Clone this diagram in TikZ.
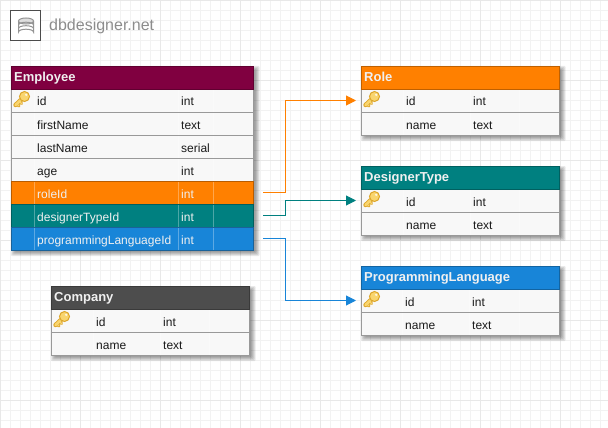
\documentclass[tikz,border=0pt]{standalone}
\usepackage{fontspec}
\setmainfont{Liberation Sans}
\usetikzlibrary{arrows.meta,calc}
\definecolor{gridminor}{HTML}{F2F2F2}
\definecolor{gridmajor}{HTML}{E8E8E8}
\definecolor{rowbg}{HTML}{F8F8F8}
\definecolor{rowline}{HTML}{999999}
\definecolor{wine}{HTML}{800040}
\definecolor{orng}{HTML}{FF8000}
\definecolor{tealc}{HTML}{008080}
\definecolor{bluec}{HTML}{1885D8}
\definecolor{greyc}{HTML}{4D4D4D}
\definecolor{orngd}{HTML}{B85C00}
\definecolor{teald}{HTML}{005F5F}
\definecolor{blued}{HTML}{1A6299}
\definecolor{cellink}{HTML}{1A1A1A}
\definecolor{lightink}{HTML}{F0F0F0}
\definecolor{keyfill}{HTML}{F9D56E}
\definecolor{keyline}{HTML}{DDA62B}
\tikzset{
  gridthin/.style={draw=gridminor,line width=1pt},
  gridthick/.style={draw=gridmajor,line width=1pt},
  headbox/.style={anchor=north west,inner sep=0pt,outer sep=0pt,draw=#1!75!black,fill=#1,line width=1pt,minimum height=23pt},
  rowbox/.style={anchor=north west,inner sep=0pt,outer sep=0pt,line width=1pt,minimum height=23pt},
  headtext/.style={anchor=base west,inner sep=0pt,text=lightink,font=\fontsize{13}{15}\selectfont\bfseries},
  celltext/.style={anchor=base west,inner sep=0pt,font=\fontsize{12}{14}\selectfont},
  relation/.style={line width=1pt,-{Triangle[length=10pt,width=10pt]}},
  keyicon/.pic={
    \draw[keyline,line width=4.4pt,line cap=round] (2,13.5) -- (9,7);
    \draw[keyline,line width=3pt,line cap=round] (3.5,12.5) -- (5.5,14.5);
    \draw[keyline,line width=3pt,line cap=round] (6,10) -- (8,12);
    \draw[keyfill,line width=2.6pt,line cap=round] (2,13.5) -- (9,7);
    \draw[keyfill,line width=1.4pt,line cap=round] (3.5,12.5) -- (5.5,14.5);
    \draw[keyfill,line width=1.4pt,line cap=round] (6,10) -- (8,12);
    \draw[keyline,fill=keyfill,line width=1pt] (11,5) circle[radius=5];
    \fill[white,opacity=.75] (12.7,3.3) circle[radius=1.3];
  }
}
\newcommand\tshadow[2]{% height, top
  \foreach \s in {-1,0,1,2,3}{
    \fill[black,opacity=.085,rounded corners=1pt] ({\tX+2.5-\s},{#2+2.5-\s}) rectangle ({\tX+\tW+1+2.5+\s},{#2+#1+2.5+\s});
  }
}
\newcommand\thead[4]{% id, top, colour, title
  \node[headbox=#3,minimum width=\tW pt] (#1) at (\tX,#2) {};
  \node[headtext] (#1-title) at ({\tX+2.5},{#2+15}) {#4};
}
\newcommand\trow[7]{% id, top, label, type, fill, border, ink
  \node[rowbox,fill=#5,draw=#6,minimum width=\tW pt] (#1) at (\tX,#2) {};
  \foreach \c in {\cA,\cB,\cC}{
    \draw[white,opacity=.3,line width=1pt] (\c,{#2+.5}) -- (\c,{#2+22.5});
  }
  \node[celltext,text=#7] (#1-name) at ({\cA+2.5},{#2+16.5}) {#3};
  \node[celltext,text=#7] (#1-type) at ({\cB+2.5},{#2+16.5}) {#4};
}
\begin{document}
\begin{tikzpicture}[x=1pt,y=-1pt]
\useasboundingbox (0,0) rectangle (608,428);
\fill[white] (0,0) rectangle (608,428);
% grid
\foreach \g in {0,10,...,600}{\draw[gridthin] (\g+.5,0) -- (\g+.5,428);}
\foreach \g in {0,10,...,420}{\draw[gridthin] (0,\g+.5) -- (608,\g+.5);}
\foreach \g in {0,80,...,600}{\draw[gridthick] (\g+.5,0) -- (\g+.5,428);}
\foreach \g in {0,80,...,420}{\draw[gridthick] (0,\g+.5) -- (608,\g+.5);}
% logo
\node[anchor=north west,inner sep=0pt,outer sep=0pt,draw=black!70,fill=white,line width=1pt,minimum width=30pt,minimum height=30pt] (logo) at (10.5,10.5) {};
\begin{scope}[draw=black!42,line width=1pt]
  \draw (18.5,21) -- (18.5,32) arc[start angle=180,end angle=360,x radius=7.5,y radius=2.8] -- (33.5,21);
  \draw[fill=black!13] (26,21) ellipse[x radius=7.5,y radius=3];
  \draw (18.5,25) arc[start angle=180,end angle=360,x radius=7.5,y radius=2.8];
  \draw (18.5,28.5) arc[start angle=180,end angle=360,x radius=7.5,y radius=2.8];
\end{scope}
\node[anchor=base west,inner sep=0pt,text=black!45,font=\fontsize{16}{18}\selectfont] (brand) at (49,31) {dbdesigner.net};
% Employee
\def\tX{11.5}\def\tW{241.5}\def\cA{34.5}\def\cB{178.5}\def\cC{213.5}
\tshadow{184}{66.5}
\trow{empid}{89.5}{id}{int}{rowbg}{rowline}{cellink}
\trow{empfirst}{112.5}{firstName}{text}{rowbg}{rowline}{cellink}
\trow{emplast}{135.5}{lastName}{serial}{rowbg}{rowline}{cellink}
\trow{empage}{158.5}{age}{int}{rowbg}{rowline}{cellink}
\trow{emprole}{181.5}{roleId}{int}{orng}{orngd}{lightink}
\trow{empdesigner}{204.5}{designerTypeId}{int}{tealc}{teald}{lightink}
\trow{empprog}{227.5}{programmingLanguageId}{int}{bluec}{blued}{lightink}
\thead{emp}{66.5}{wine}{Employee}
\pic at (13.5,91.5) {keyicon};
% Role
\def\tX{361.5}\def\tW{197.5}\def\cA{403.5}\def\cB{470.5}\def\cC{519.5}
\tshadow{69}{66.5}
\trow{roleid}{89.5}{id}{int}{rowbg}{rowline}{cellink}
\trow{rolename}{112.5}{name}{text}{rowbg}{rowline}{cellink}
\thead{role}{66.5}{orng}{Role}
\pic at (363.5,91.5) {keyicon};
% DesignerType
\tshadow{69}{166.5}
\trow{dtid}{189.5}{id}{int}{rowbg}{rowline}{cellink}
\trow{dtname}{212.5}{name}{text}{rowbg}{rowline}{cellink}
\thead{dt}{166.5}{tealc}{DesignerType}
\pic at (363.5,191.5) {keyicon};
% ProgrammingLanguage
\def\cA{402.5}\def\cB{469.5}
\tshadow{69}{266.5}
\trow{plid}{289.5}{id}{int}{rowbg}{rowline}{cellink}
\trow{plname}{312.5}{name}{text}{rowbg}{rowline}{cellink}
\thead{pl}{266.5}{bluec}{ProgrammingLanguage}
\pic at (363.5,291.5) {keyicon};
% Company
\def\tX{51.5}\def\tW{197.5}\def\cA{93.5}\def\cB{160.5}\def\cC{209.5}
\tshadow{69}{286.5}
\trow{coid}{309.5}{id}{int}{rowbg}{rowline}{cellink}
\trow{coname}{332.5}{name}{text}{rowbg}{rowline}{cellink}
\thead{co}{286.5}{greyc}{Company}
\pic at (53.5,311.5) {keyicon};
% relations
\coordinate (bus) at (285,0);
\coordinate (a1) at ([shift={(10pt,.5pt)}]emprole.east);
\coordinate (b1) at ([shift={(-5.5pt,.5pt)}]roleid.west);
\coordinate (a2) at ([shift={(10pt,.5pt)}]empdesigner.east);
\coordinate (b2) at ([shift={(-5.5pt,.5pt)}]dtid.west);
\coordinate (a3) at ([shift={(10pt,.5pt)}]empprog.east);
\coordinate (b3) at ([shift={(-5.5pt,.5pt)}]plid.west);
\draw[relation,orng] (a1) -- (bus |- a1) -- (bus |- b1) -- (b1);
\draw[relation,tealc] (a2) -- (bus |- a2) -- (bus |- b2) -- (b2);
\draw[relation,bluec] (a3) -- (bus |- a3) -- (bus |- b3) -- (b3);
\end{tikzpicture}
\end{document}
